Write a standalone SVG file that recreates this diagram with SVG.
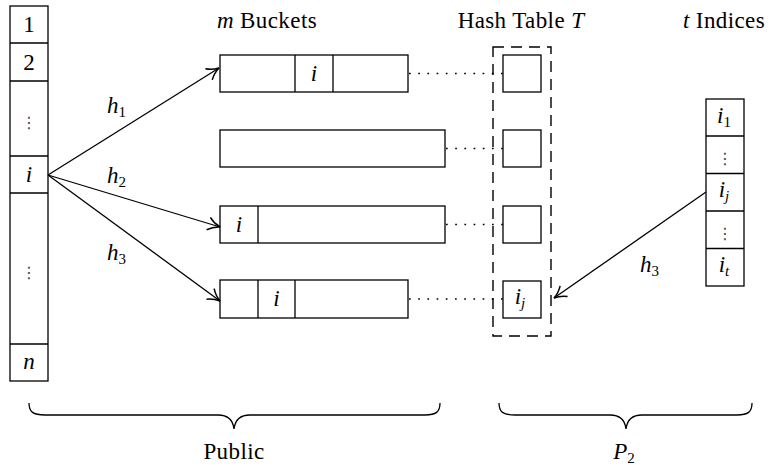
<svg xmlns="http://www.w3.org/2000/svg" width="773" height="468" viewBox="0 0 773 468">
<defs>
<style>
.box{fill:#fff;stroke:#000;stroke-width:1.3}
.ln{fill:none;stroke:#000;stroke-width:1.3}
.t{font-family:"Liberation Serif","Times New Roman",serif;font-size:23px;fill:#000}
.ttl{font-size:23px;letter-spacing:0.4px}
.c{text-anchor:middle}
.it{font-style:italic}
.sub{font-size:15px;font-style:normal}
.subi{font-size:15px;font-style:italic}
.dots{font-family:"DejaVu Serif","DejaVu Sans",serif;font-size:16px;fill:#444;text-anchor:middle}
.dot{fill:none;stroke:#000;stroke-width:1.7;stroke-dasharray:1.7 7.5;stroke-linecap:butt}
.dash{fill:none;stroke:#000;stroke-width:1.4;stroke-dasharray:11 7}
.arr{fill:none;stroke:#000;stroke-width:1.3;marker-end:url(#tip)}
</style>
<marker id="tip" markerWidth="16" markerHeight="16" viewBox="-13 -8 16 16" refX="0" refY="0" orient="auto" markerUnits="userSpaceOnUse">
<path d="M-12,-6.5 C-8,-2.8 -2.8,-0.7 0,0 C-2.8,0.7 -8,2.8 -12,6.5" fill="none" stroke="#000" stroke-width="1.5"/>
</marker>
</defs>
<rect width="773" height="468" fill="#fff"/>

<g id="titles">
<text class="t ttl c" x="267" y="28"><tspan class="it">m</tspan> Buckets</text>
<text class="t ttl c" x="521" y="28">Hash Table <tspan class="it">T</tspan></text>
<text class="t ttl c" x="724" y="28"><tspan class="it">t</tspan> Indices</text>
</g>

<g id="input-array">
<rect class="box" x="10" y="6" width="38" height="375"/>
<path class="ln" d="M10,43H48M10,81H48M10,156H48M10,193H48M10,344H48"/>
<text class="t c" x="29" y="32">1</text>
<text class="t c" x="29" y="70">2</text>
<text class="dots" x="29" y="128">⋮</text>
<text class="t c it" x="29" y="182">i</text>
<text class="dots" x="29" y="278">⋮</text>
<text class="t c it" x="29" y="369">n</text>
</g>

<g id="bucket1">
<rect class="box" x="220" y="55" width="188" height="37"/>
<path class="ln" d="M295,55V92M333,55V92"/>
<text class="t c it" x="314" y="81">i</text>
</g>
<g id="bucket2">
<rect class="box" x="220" y="130" width="225" height="37"/>
</g>
<g id="bucket3">
<rect class="box" x="220" y="206" width="225" height="37"/>
<path class="ln" d="M258,206V243"/>
<text class="t c it" x="239" y="232">i</text>
</g>
<g id="bucket4">
<rect class="box" x="220" y="280" width="188" height="38"/>
<path class="ln" d="M258,280V318M295,280V318"/>
<text class="t c it" x="276.5" y="306">i</text>
</g>

<g id="hash-table">
<rect class="dash" x="493" y="47" width="58" height="289"/>
<rect class="box" x="503" y="55" width="38" height="37"/>
<rect class="box" x="503" y="130" width="38" height="37"/>
<rect class="box" x="503" y="206" width="38" height="37"/>
<rect class="box" x="503" y="281" width="38" height="37"/>
<text class="t c it" x="520" y="304">i<tspan class="subi" dy="4">j</tspan></text>
</g>

<g id="indices">
<rect class="box" x="706" y="99" width="38" height="187"/>
<path class="ln" d="M706,136H744M706,173.5H744M706,211H744M706,248.5H744"/>
<text class="t c it" x="724" y="123">i<tspan class="sub" dy="4">1</tspan></text>
<text class="dots" x="725" y="164">⋮</text>
<text class="t c it" x="724" y="197">i<tspan class="subi" dy="4">j</tspan></text>
<text class="dots" x="725" y="239">⋮</text>
<text class="t c it" x="724" y="272">i<tspan class="subi" dy="4">t</tspan></text>
</g>

<g id="connectors">
<path class="arr" d="M48,175L219,68"/>
<path class="arr" d="M48,175L220,227"/>
<path class="arr" d="M48,175L220,301"/>
<path class="arr" d="M706,192L554,298"/>
<path class="dot" d="M409,73.5H503"/>
<path class="dot" d="M446,148.5H503"/>
<path class="dot" d="M446,224.5H503"/>
<path class="dot" d="M409,299H503"/>
<text class="t it" x="107" y="113">h<tspan class="sub" dy="4">1</tspan></text>
<text class="t it" x="107" y="183">h<tspan class="sub" dy="4">2</tspan></text>
<text class="t it" x="107" y="260">h<tspan class="sub" dy="4">3</tspan></text>
<text class="t it" x="640" y="272">h<tspan class="sub" dy="4">3</tspan></text>
</g>

<g id="braces">
<path class="ln" d="M29,403C29,412 33,415 45,415H218C228,415 233,420 234,429C235,420 240,415 250,415H425C436,415 440,412 440,403"/>
<path class="ln" d="M499,403C499,412 503,415 515,415H610C620,415 625,420 626,429C627,420 632,415 642,415H737C748,415 752,412 752,403"/>
<text class="t ttl c" x="234" y="459">Public</text>
<text class="t c it" x="624" y="459">P<tspan class="sub" dy="4">2</tspan></text>
</g>
</svg>
